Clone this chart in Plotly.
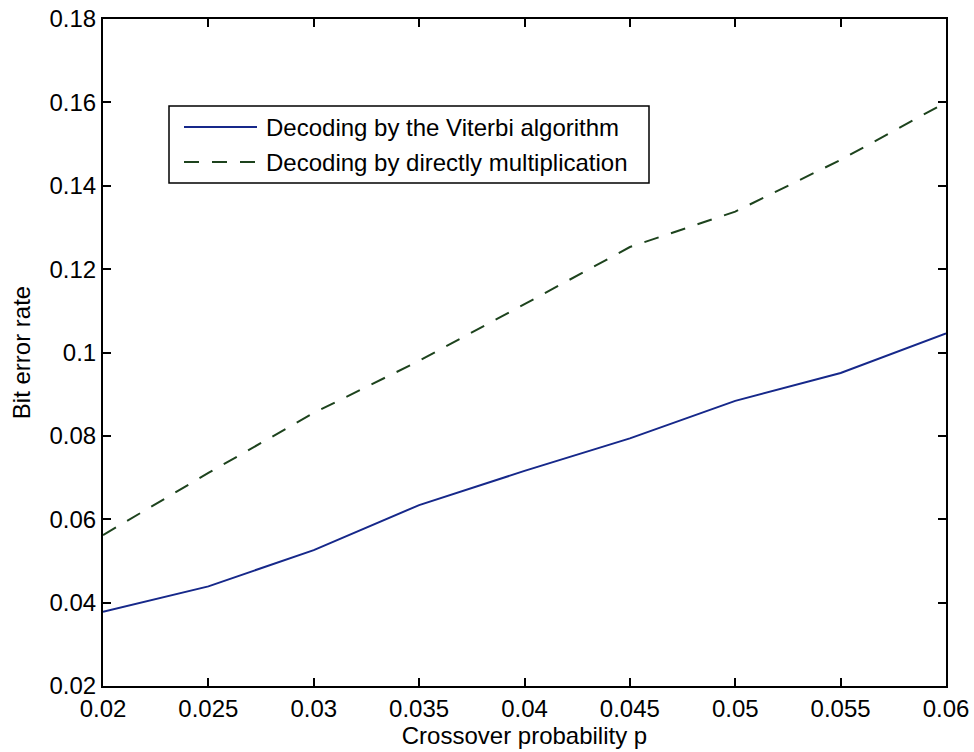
import plotly.graph_objects as go

p = [0.02, 0.025, 0.03, 0.035, 0.04, 0.045, 0.05, 0.055, 0.06]
ber_viterbi = [0.0378, 0.0439, 0.0526, 0.0634, 0.0716, 0.0794, 0.0884, 0.0951, 0.1046]
ber_direct = [0.0562, 0.0711, 0.0855, 0.0980, 0.1116, 0.1253, 0.1338, 0.1462, 0.1600]
x_ticks = [0.02, 0.025, 0.03, 0.035, 0.04, 0.045, 0.05, 0.055, 0.06]
y_ticks = [0.02, 0.04, 0.06, 0.08, 0.1, 0.12, 0.14, 0.16, 0.18]
names = ["Decoding by the Viterbi algorithm", "Decoding by directly multiplication"]
colors = ["#16288a", "#1d431d"]
dashes = ["solid", "15px,13px"]

fig = go.Figure()
for yv, nm, c, d in zip([ber_viterbi, ber_direct], names, colors, dashes):
    fig.add_trace(go.Scatter(x=p, y=yv, mode="lines", name=nm,
                             line=dict(color=c, width=2, dash=d), showlegend=False))

FONT = "Liberation Sans, Arial, sans-serif"
font = dict(family=FONT, color="black")

# plot-area geometry in pixels (for the hand-drawn legend box)
L, R, T, B = 103, 946, 19, 686
W, H = R - L, B - T
def px(xp): return (xp - L) / W
def py(yp): return (B - yp) / H

shapes = [dict(type="rect", xref="paper", yref="paper",
               x0=px(169), x1=px(649), y0=py(183), y1=py(106),
               line=dict(color="black", width=1.5), fillcolor="white", layer="above")]
annotations = []
for i, (nm, c, d) in enumerate(zip(names, colors, dashes)):
    yy = [127, 162][i]
    shapes.append(dict(type="line", xref="paper", yref="paper",
                       x0=px(184), x1=px(257), y0=py(yy), y1=py(yy),
                       line=dict(color=c, width=2, dash=d), layer="above"))
    annotations.append(dict(xref="paper", yref="paper", x=px(264), y=py(yy),
                            xanchor="left", yanchor="middle", showarrow=False,
                            text=nm, font=dict(size=24, **font)))

fig.update_layout(
    width=974, height=752,
    margin=dict(l=L, r=974 - R, t=T, b=752 - B),
    paper_bgcolor="white", plot_bgcolor="white",
    font=font,
    showlegend=False,
    shapes=shapes, annotations=annotations,
    xaxis=dict(range=[0.02, 0.06], tickvals=x_ticks,
               ticktext=[f"{v:g}" for v in x_ticks],
               ticks="inside", ticklen=8, tickwidth=1.5, tickcolor="black",
               showline=True, linecolor="black", linewidth=2, mirror="ticks",
               showgrid=False, zeroline=False, automargin=False,
               tickfont=dict(size=24, **font),
               title=dict(text="Crossover probability p", font=dict(size=24, **font), standoff=2)),
    yaxis=dict(range=[0.02, 0.18], tickvals=y_ticks,
               ticktext=[f"{v:g}" for v in y_ticks],
               ticks="inside", ticklen=8, tickwidth=1.5, tickcolor="black",
               showline=True, linecolor="black", linewidth=2, mirror="ticks",
               showgrid=False, zeroline=False, automargin=False,
               tickfont=dict(size=24, **font),
               title=dict(text="Bit error rate", font=dict(size=24, **font), standoff=12)),
)
fig.write_html("out.html")
